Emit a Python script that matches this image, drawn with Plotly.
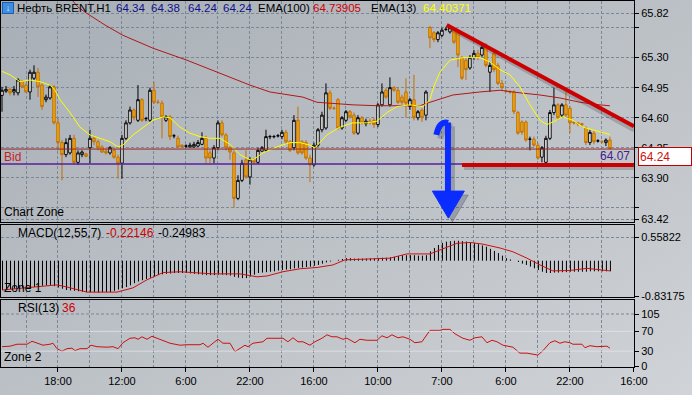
import base64
import plotly.graph_objects as go

# ---------------- data ----------------
BARS = list(range(153))
OPEN = [64.86, 64.91, 64.93, 64.90, 64.89, 65.02, 64.98, 64.90, 65.06, 65.13,
        64.98, 64.81, 64.83, 64.96, 64.54, 64.31, 64.17, 64.19, 64.36, 64.08,
        64.17, 64.18, 64.25, 64.36, 64.32, 64.26, 64.21, 64.19, 64.22, 64.14,
        64.07, 64.36, 64.54, 64.69, 64.57, 64.81, 64.59, 64.57, 64.92, 64.78,
        64.77, 64.57, 64.61, 64.39, 64.36, 64.28, 64.27, 64.26, 64.26, 64.27,
        64.29, 64.36, 64.19, 64.13, 64.25, 64.54, 64.40, 64.25, 64.19, 63.66,
        63.87, 64.11, 63.91, 64.11, 64.08, 64.21, 64.22, 64.38, 64.38, 64.39,
        64.38, 64.43, 64.32, 64.25, 64.57, 64.32, 64.31, 64.13, 64.05, 64.28,
        64.46, 64.48, 64.89, 64.71, 64.81, 64.48, 64.57, 64.67, 64.63, 64.42,
        64.60, 64.53, 64.56, 64.57, 64.52, 64.75, 64.92, 64.75, 64.95, 64.92,
        64.84, 64.90, 64.73, 64.81, 64.60, 64.69, 64.63, 65.65, 65.59, 65.51,
        65.56, 65.63, 65.60, 65.62, 65.59, 65.30, 65.27, 65.18, 65.30, 65.35,
        65.33, 65.45, 65.13, 65.35, 65.21, 65.00, 64.91, 64.90, 64.90, 64.66,
        64.55, 64.55, 64.35, 64.35, 64.28, 64.14, 64.08, 64.36, 64.66, 64.75,
        64.63, 64.75, 64.71, 64.55, 64.54, 64.53, 64.48, 64.31, 64.42, 64.33,
        64.32, 64.31, 64.34]
HIGH = [64.96, 64.97, 64.95, 64.97, 65.06, 65.04, 65.00, 65.16, 65.21, 65.18,
        65.00, 64.87, 64.98, 64.98, 64.60, 64.34, 64.36, 64.40, 64.40, 64.22,
        64.22, 64.19, 64.46, 64.39, 64.34, 64.28, 64.24, 64.27, 64.25, 64.17,
        64.40, 64.57, 64.73, 64.71, 64.98, 64.83, 64.61, 64.95, 65.02, 64.81,
        64.80, 64.63, 64.63, 64.41, 64.39, 64.29, 64.29, 64.31, 64.32, 64.34,
        64.43, 64.39, 64.22, 64.28, 64.57, 64.57, 64.42, 64.27, 64.22, 63.93,
        64.11, 64.22, 64.14, 64.13, 64.25, 64.27, 64.46, 64.40, 64.40, 64.41,
        64.46, 64.46, 64.34, 64.63, 64.73, 64.34, 64.34, 64.17, 64.31, 64.48,
        64.67, 65.00, 64.92, 64.73, 64.83, 64.62, 64.69, 64.69, 64.66, 64.63,
        64.62, 64.59, 64.59, 64.60, 64.77, 65.00, 64.95, 65.07, 64.97, 64.95,
        64.87, 65.06, 64.83, 65.10, 64.69, 64.71, 64.92, 65.67, 65.61, 65.61,
        65.65, 65.66, 65.68, 65.65, 65.61, 65.32, 65.30, 65.33, 65.39, 65.39,
        65.46, 65.47, 65.25, 65.39, 65.24, 65.04, 64.93, 64.92, 64.92, 64.68,
        64.57, 64.57, 64.38, 64.38, 64.31, 64.27, 64.39, 64.69, 64.95, 64.77,
        64.77, 64.90, 64.74, 64.56, 64.55, 64.54, 64.50, 64.46, 64.45, 64.35,
        64.34, 64.36, 64.38]
LOW = [64.67, 64.89, 64.86, 64.86, 64.86, 64.95, 64.89, 64.81, 65.04, 64.84,
       64.69, 64.78, 64.81, 64.52, 64.22, 63.87, 64.14, 64.17, 64.05, 64.05,
       64.14, 64.14, 64.07, 64.28, 64.22, 64.19, 64.17, 64.17, 64.12, 63.89,
       63.89, 64.34, 64.52, 64.57, 64.55, 64.55, 64.56, 64.55, 64.76, 64.76,
       64.36, 64.55, 64.34, 64.36, 64.25, 64.25, 64.25, 64.25, 64.25, 64.26,
       64.28, 64.07, 64.07, 64.07, 64.22, 64.38, 64.22, 64.11, 63.55, 63.64,
       63.85, 63.89, 63.82, 64.06, 64.06, 64.20, 64.20, 64.35, 64.36, 64.37,
       64.35, 64.29, 64.20, 64.22, 64.17, 64.17, 64.11, 63.85, 64.03, 64.26,
       64.43, 64.46, 64.69, 64.69, 64.46, 64.46, 64.55, 64.59, 64.40, 64.40,
       64.52, 64.50, 64.52, 64.48, 64.49, 64.73, 64.82, 64.73, 64.90, 64.76,
       64.75, 64.60, 64.69, 64.57, 64.57, 64.55, 64.57, 65.41, 65.48, 65.48,
       65.54, 65.61, 65.58, 65.46, 65.19, 65.04, 65.04, 65.16, 65.27, 65.27,
       65.31, 65.19, 64.90, 65.13, 64.98, 64.92, 64.89, 64.88, 64.64, 64.40,
       64.40, 64.32, 64.22, 64.26, 64.11, 64.08, 64.06, 64.34, 64.63, 64.57,
       64.61, 64.61, 64.42, 64.52, 64.50, 64.49, 64.28, 64.28, 64.29, 64.31,
       64.30, 64.27, 64.24]
CLOSE = [64.92, 64.93, 64.89, 64.93, 65.04, 64.96, 64.90, 65.13, 65.13, 64.96,
         64.73, 64.84, 64.96, 64.54, 64.31, 64.17, 64.31, 64.36, 64.08, 64.19,
         64.20, 64.15, 64.36, 64.32, 64.25, 64.20, 64.19, 64.25, 64.14, 64.07,
         64.36, 64.54, 64.69, 64.60, 64.81, 64.57, 64.59, 64.92, 64.78, 64.78,
         64.61, 64.61, 64.38, 64.39, 64.26, 64.26, 64.27, 64.28, 64.29, 64.31,
         64.36, 64.13, 64.13, 64.25, 64.54, 64.40, 64.25, 64.20, 63.66, 63.87,
         64.07, 63.91, 64.11, 64.08, 64.22, 64.25, 64.38, 64.38, 64.38, 64.39,
         64.43, 64.32, 64.22, 64.57, 64.19, 64.19, 64.13, 64.05, 64.28, 64.46,
         64.63, 64.89, 64.71, 64.71, 64.48, 64.60, 64.67, 64.61, 64.42, 64.60,
         64.54, 64.56, 64.54, 64.52, 64.75, 64.90, 64.84, 64.95, 64.92, 64.78,
         64.78, 64.77, 64.81, 64.60, 64.67, 64.60, 64.90, 65.53, 65.51, 65.59,
         65.62, 65.63, 65.65, 65.48, 65.33, 65.06, 65.16, 65.30, 65.35, 65.30,
         65.42, 65.21, 65.21, 65.16, 65.00, 64.95, 64.91, 64.90, 64.67, 64.42,
         64.43, 64.34, 64.35, 64.28, 64.13, 64.25, 64.36, 64.66, 64.75, 64.60,
         64.75, 64.63, 64.54, 64.54, 64.53, 64.52, 64.31, 64.43, 64.32, 64.33,
         64.32, 64.34, 64.24]

EMA100_X = [17, 19, 20.75, 23.75, 25.75, 30.25, 37.75, 46.25, 53.75, 62, 67, 75.25, 78.75,
            87.75, 93.75, 101.25, 104.5, 107, 112.75, 119.5, 124.5, 129.5, 134.5, 139.5,
            144.5, 149.5, 152]
EMA100_Y = [66.00, 65.89, 65.83, 65.74, 65.68, 65.56, 65.41, 65.27, 65.13, 64.98, 64.90, 64.84,
            64.78, 64.75, 64.74, 64.74, 64.74, 64.78, 64.865, 64.90, 64.92, 64.89, 64.865,
            64.83, 64.78, 64.75, 64.739]

EMA13_X = [0, 2, 4.5, 7, 9.5, 12, 13.25, 14.5, 17, 19.5, 22, 24.5, 27, 29, 30.25, 32.75, 35.25,
           37.75, 40.25, 42, 44.5, 47, 49.5, 52, 54.5, 57, 59.5, 62, 62.75, 65.25, 68.75, 72,
           74.5, 77, 78.25, 79.5, 81.25, 84.5, 87.75, 91.25, 93.75, 96.25, 98.75, 102, 105.25,
           107, 108, 109.5, 112, 115.25, 119.5, 122, 124.5, 127, 129.5, 132, 134.5, 136.25,
           137.75, 140.25, 142.75, 145.25, 147.75, 150.25, 152]
EMA13_Y = [65.14, 65.10, 65.02, 65.04, 65.02, 64.98, 64.92, 64.81, 64.66, 64.49, 64.40, 64.36,
           64.32, 64.26, 64.28, 64.40, 64.48, 64.57, 64.61, 64.60, 64.49, 64.42, 64.38, 64.36,
           64.36, 64.29, 64.17, 64.11, 64.11, 64.19, 64.26, 64.31, 64.31, 64.28, 64.25, 64.31,
           64.40, 64.49, 64.54, 64.54, 64.56, 64.66, 64.73, 64.75, 64.73, 64.81, 64.97, 65.13,
           65.27, 65.30, 65.30, 65.25, 65.16, 65.10, 64.96, 64.75, 64.57, 64.52, 64.55, 64.61,
           64.57, 64.49, 64.46, 64.43, 64.404]

MACD_HIST = [-0.69, -0.68, -0.67, -0.66, -0.65, -0.64, -0.63, -0.62, -0.62, -0.60,
             -0.59, -0.58, -0.57, -0.60, -0.63, -0.66, -0.69, -0.70, -0.71, -0.72,
             -0.73, -0.74, -0.74, -0.74, -0.75, -0.74, -0.74, -0.74, -0.71, -0.68,
             -0.65, -0.62, -0.58, -0.53, -0.49, -0.46, -0.43, -0.40, -0.37, -0.34,
             -0.32, -0.31, -0.30, -0.29, -0.29, -0.29, -0.29, -0.30, -0.31, -0.32,
             -0.33, -0.34, -0.34, -0.34, -0.33, -0.33, -0.34, -0.35, -0.38, -0.40,
             -0.41, -0.41, -0.37, -0.33, -0.29, -0.28, -0.27, -0.26, -0.25, -0.23,
             -0.22, -0.21, -0.20, -0.18, -0.17, -0.16, -0.15, -0.14, -0.12, -0.10,
             -0.07, -0.04, -0.02, 0.00, 0.02, 0.04, 0.06, 0.06, 0.05, 0.05,
             0.05, 0.05, 0.05, 0.05, 0.06, 0.07, 0.07, 0.08, 0.09, 0.11,
             0.13, 0.13, 0.13, 0.13, 0.12, 0.12, 0.13, 0.22, 0.30, 0.37,
             0.42, 0.45, 0.46, 0.47, 0.47, 0.46, 0.45, 0.44, 0.42, 0.39,
             0.36, 0.33, 0.28, 0.23, 0.18, 0.12, 0.06, 0.03, 0.00, -0.03,
             -0.07, -0.10, -0.14, -0.18, -0.22, -0.26, -0.29, -0.29, -0.28, -0.28,
             -0.27, -0.27, -0.26, -0.26, -0.26, -0.26, -0.26, -0.25, -0.25, -0.25,
             -0.25, -0.25, -0.25]
MACD_SIG_X = [0, 7.75, 13.75, 16.25, 21.25, 28.75, 32.75, 36.25, 40.25, 44.5, 47.75, 52.75,
              59.5, 63.75, 66.25, 70.25, 74.5, 78.75, 82.75, 85.75, 97, 101.25, 107, 109.5,
              113.75, 117, 120.25, 124.5, 127.75, 131.25, 134.5, 137.75, 142, 146.25, 149.5, 152]
MACD_SIG_Y = [-0.69, -0.62, -0.57, -0.62, -0.74, -0.74, -0.64, -0.45, -0.28, -0.26, -0.28, -0.31,
              -0.31, -0.38, -0.36, -0.26, -0.19, -0.16, -0.10, 0.02, 0.06, 0.16, 0.16, 0.25,
              0.41, 0.43, 0.39, 0.30, 0.21, 0.06, -0.10, -0.24, -0.23, -0.18, -0.22, -0.24]

RSI_X = [0, 2, 3.75, 6.25, 7.5, 8.75, 10.25, 12, 12.75, 13.75,
         15, 16.25, 17.5, 18.25, 19.5, 21.25, 22.25, 23.75, 26.25, 27.75,
         29, 30.25, 32, 33.25, 34, 35, 36.25, 37.5, 38.75, 40.25,
         42, 44.5, 46.25, 49.5, 50.25, 51.5, 54, 55.25, 57, 58.25,
         59.5, 60.75, 61.5, 62.75, 65.25, 66.25, 70.25, 71.5, 72.75, 74,
         75.25, 77, 78.25, 80, 81.25, 82.5, 83.75, 85.25, 86.25, 88.25,
         89.5, 91.25, 93.75, 95, 96.25, 97.5, 99, 100.25, 102, 103.25,
         105, 107, 109.5, 110.25, 112, 113.25, 115.25, 117, 118.25, 120,
         121.25, 122.5, 123.75, 125.25, 127.75, 129.5, 131.25, 132.75, 134, 135.25,
         137, 138.25, 139.5, 140.75, 142, 142.75, 145, 145.75, 147, 148.75,
         150.25, 151.25, 152]
RSI_Y = [39, 40, 44, 44, 50, 47, 42, 44, 46, 35,
         30, 35, 36, 31, 35, 35, 42, 39, 38, 39,
         35, 47, 56, 57, 54, 59, 54, 60, 56, 50,
         46, 42, 43, 43, 46, 38, 54, 46, 46, 29,
         36, 42, 39, 46, 49, 56, 56, 49, 57, 49,
         49, 42, 49, 56, 63, 59, 59, 54, 56, 47,
         54, 52, 52, 61, 57, 63, 57, 59, 54, 47,
         49, 72, 72, 74, 74, 65, 56, 52, 57, 59,
         47, 52, 49, 42, 38, 26, 26, 24, 22, 31,
         47, 51, 46, 49, 47, 44, 44, 37, 41, 39,
         39, 40, 36]

TIME_TICKS = [14, 30, 46, 62, 78, 94, 110, 126, 142, 158]
TIME_LABELS = ["18:00", "12:00", "6:00", "22:00", "16:00", "10:00", "7:00", "6:00", "22:00", "16:00"]
PRICE_TICKS = [63.42, 63.55, 63.90, 64.25, 64.60, 64.95, 65.30, 65.65, 65.82]
PRICE_LABELS = ["63.42", "", "63.90", "64.25", "64.60", "64.95", "65.30", "", "65.82"]
MACD_TICKS = [-0.83175, 0.55822]
MACD_LABELS = ["-0.83175", "0.55822"]
RSI_TICKS = [0, 30, 70, 105]

HEADER_VALUES = ["64.34", "64.38", "64.24", "64.24"]
EMA100_LAST = "64.73905"
EMA13_LAST = "64.40371"
MACD_VALUES = ["-0.22146", "-0.24983"]
RSI_LAST = "36"
BID = 64.24
SUPPORT = 64.06
TREND = [(111.2, 65.68), (158.0, 64.50)]
BASE = [(115.0, 64.05), (158.0, 64.05)]

# ---------------- geometry ----------------
W, H = 692, 395
ML, MR, MT, MB = 1, 58, 1, 28
PW, PH = W - ML - MR, H - MT - MB


def px(xp):
    return (xp - ML) / PW


def py(yp):
    return (H - MB - yp) / PH


X_RANGE = [-0.25, 158.02]
GRID_X = list(range(6, 159, 8))
GRID_MINOR = list(range(6, 151, 16))
GRID = dict(gridcolor="#7b8897", griddash="3px,2px", gridwidth=1)
FRAME = dict(showline=True, mirror=True, linecolor="black", linewidth=1, zeroline=False)
FONT = "Liberation Sans, Arial, sans-serif"

fig = go.Figure()

fig.add_trace(go.Candlestick(
    x=BARS, open=OPEN, high=HIGH, low=LOW, close=CLOSE,
    increasing=dict(line=dict(color="#000000", width=1), fillcolor="#ffffff"),
    decreasing=dict(line=dict(color="#c0700a", width=1), fillcolor="#f5aa00"),
    whiskerwidth=0, xaxis="x", yaxis="y", hoverinfo="skip"))
fig.add_trace(go.Scatter(x=EMA100_X, y=EMA100_Y, mode="lines",
                         line=dict(color="#b01818", width=1), xaxis="x", yaxis="y"))
fig.add_trace(go.Scatter(x=EMA13_X, y=EMA13_Y, mode="lines",
                         line=dict(color="#ffff00", width=1), xaxis="x", yaxis="y"))

# MACD histogram as thin 1px stems from zero (half-pixel offset keeps them crisp)
hx, hy = [], []
for b, v in zip(BARS, MACD_HIST):
    hx += [b + 0.125, b + 0.125, None]
    hy += [0, v, None]
fig.add_trace(go.Scatter(x=hx, y=hy, mode="lines", line=dict(color="black", width=1),
                         xaxis="x2", yaxis="y2"))
fig.add_trace(go.Scatter(x=MACD_SIG_X, y=MACD_SIG_Y, mode="lines",
                         line=dict(color="#cc1010", width=1), xaxis="x2", yaxis="y2"))

fig.add_trace(go.Scatter(x=RSI_X, y=RSI_Y, mode="lines",
                         line=dict(color="#cc1010", width=1), xaxis="x3", yaxis="y3"))

# background gradient
svg = ('<svg xmlns="http://www.w3.org/2000/svg" width="692" height="395">'
       '<defs><linearGradient id="g" x1="0" y1="0" x2="1" y2="1">'
       '<stop offset="0" stop-color="#a7aeb5"/><stop offset="1" stop-color="#d0d3d7"/>'
       '</linearGradient></defs><rect width="692" height="395" fill="url(#g)"/></svg>')
src = "data:image/svg+xml;base64," + base64.b64encode(svg.encode()).decode()

shapes = []
shapes.append(dict(type="line", xref="paper", yref="y", x0=0, x1=1, y0=BID - 0.005, y1=BID - 0.005,
                   line=dict(color="#9a2424", width=1)))
shapes.append(dict(type="line", xref="paper", yref="y", x0=0, x1=1, y0=SUPPORT, y1=SUPPORT,
                   line=dict(color="#5a1f9c", width=1.5)))
shapes.append(dict(type="line", xref="paper", yref="y3", x0=0, x1=1, y0=105, y1=105,
                   line=dict(color="#7b8897", width=1, dash="3px,2px")))
for lv in (70, 30):
    shapes.append(dict(type="line", xref="paper", yref="y3", x0=0, x1=1, y0=lv, y1=lv,
                       line=dict(color="rgba(225,228,232,0.8)", width=1)))
shapes.append(dict(type="line", xref="x", yref="y", x0=TREND[0][0] + 0.5, y0=TREND[0][1] - 0.035,
                   x1=TREND[1][0], y1=TREND[1][1] - 0.035 - 0.01,
                   line=dict(color="rgba(40,40,50,0.22)", width=4)))
shapes.append(dict(type="line", xref="x", yref="y", x0=BASE[0][0] + 0.5, y0=BASE[0][1] - 0.035,
                   x1=BASE[1][0], y1=BASE[1][1] - 0.035, line=dict(color="rgba(40,40,50,0.22)", width=4)))
shapes.append(dict(type="line", xref="x", yref="y", x0=TREND[0][0], y0=TREND[0][1],
                   x1=TREND[1][0], y1=TREND[1][1], line=dict(color="#cc0000", width=4)))
shapes.append(dict(type="line", xref="x", yref="y", x0=BASE[0][0], y0=BASE[0][1],
                   x1=BASE[1][0], y1=BASE[1][1], line=dict(color="#cc0000", width=4)))
ARROW_COL = "#0a2cff"
for dx, dy, col in ((1.0, -0.045, "rgba(40,40,70,0.25)"), (0, 0, ARROW_COL)):
    shapes.append(dict(type="path", xref="x", yref="y",
                       path=f"M {108.6+dx},{64.40+dy} Q {109.4+dx},{64.57+dy} {111.5+dx},{64.54+dy}",
                       line=dict(color=col, width=6)))
    shapes.append(dict(type="line", xref="x", yref="y", x0=111.5 + dx, y0=64.545 + dy,
                       x1=111.5 + dx, y1=63.72 + dy, line=dict(color=col, width=6)))
    shapes.append(dict(type="path", xref="x", yref="y",
                       path=f"M {107.6+dx},{63.745+dy} L {115.6+dx},{63.745+dy} L {111.6+dx},{63.43+dy} Z",
                       fillcolor=col, line=dict(color=col, width=1)))

ann = []


def text(xp, yp, s, color="black", size=11, anchor="left"):
    ann.append(dict(x=px(xp), y=py(yp), xref="paper", yref="paper", text=s, showarrow=False,
                    xanchor=anchor, yanchor="middle", font=dict(color=color, size=size, family=FONT)))


ann.append(dict(x=px(2), y=py(2), xref="paper", yref="paper", text="<b>↓</b>", showarrow=False,
                xanchor="left", yanchor="top", width=10, height=10, bgcolor="#3d8de0",
                bordercolor="#1d5fb0", borderwidth=1, borderpad=0,
                font=dict(color="white", size=9, family=FONT)))
text(15, 8, "Нефть BRENT,H1", size=11.5)
for xp, v in zip((114, 149, 186, 221), HEADER_VALUES):
    text(xp, 8, v, color="#101088", size=11.5)
text(256, 8, "EMA(100)", size=11.5)
text(311, 8, EMA100_LAST, color="#d00000", size=11.5)
text(369, 8, "EMA(13)", size=11.5)
text(421, 8, EMA13_LAST, color="#ffff00", size=11.5)
text(2, 157, "Bid", color="#c81e1e", size=12)
text(2, 212, "Chart Zone", size=12)
text(16, 233, "MACD(12,55,7)", size=12)
text(104, 233, MACD_VALUES[0], color="#d00000", size=12)
text(156, 233, MACD_VALUES[1], size=12)
text(2, 288, "Zone 1", size=12)
text(16, 308, "RSI(13)", size=12)
text(60, 308, RSI_LAST, color="#d00000", size=12)
text(2, 357, "Zone 2", size=12)
ann.append(dict(x=157.6, y=64.154, xref="x", yref="y", text="64.07", showarrow=False,
                xanchor="right", yanchor="middle", font=dict(color="#4a1c8c", size=12, family=FONT)))
ann.append(dict(x=px(638), y=py(147), xref="paper", yref="paper", text="64.24", showarrow=False,
                xanchor="left", yanchor="top", align="left", width=50, height=15, borderpad=1,
                bgcolor="white", bordercolor="#c00000", borderwidth=1,
                font=dict(color="#d01010", size=12, family=FONT)))

xcommon = dict(range=X_RANGE, showgrid=True, **GRID, **FRAME)
ycommon = dict(side="right", ticks="outside", ticklen=4, tickcolor="black", **FRAME,
               tickfont=dict(size=11, color="black", family=FONT))

fig.update_layout(
    width=W, height=H, margin=dict(l=ML, r=MR, t=MT, b=MB),
    paper_bgcolor="#bcc1c6", plot_bgcolor="rgba(0,0,0,0)",
    showlegend=False, hovermode=False, boxgap=0.12,
    font=dict(family=FONT, size=11, color="black"),
    images=[dict(source=src, xref="paper", yref="paper", x=px(0), y=py(0),
                 sizex=W / PW, sizey=H / PH, sizing="stretch", xanchor="left", yanchor="top",
                 layer="below")],
    xaxis=dict(domain=[0, 1], anchor="y", tickvals=GRID_X, showticklabels=False, ticks="",
               rangeslider=dict(visible=False), **xcommon),
    yaxis=dict(domain=[py(222), 1], anchor="x", range=[63.385, 65.960],
               tickvals=PRICE_TICKS, ticktext=PRICE_LABELS, showgrid=True, **GRID, **ycommon),
    xaxis2=dict(domain=[0, 1], anchor="y2", tickvals=GRID_X, showticklabels=False, ticks="",
                **xcommon),
    yaxis2=dict(domain=[py(297), py(225)], anchor="x2", range=[-0.855, 0.841],
                tickvals=MACD_TICKS, ticktext=MACD_LABELS, showgrid=True, **GRID, **ycommon),
    xaxis3=dict(domain=[0, 1], anchor="y3", tickvals=TIME_TICKS, ticktext=TIME_LABELS,
                ticks="outside", ticklen=4, tickcolor="black",
                tickfont=dict(size=11, color="black", family=FONT),
                minor=dict(tickvals=GRID_MINOR, showgrid=True, gridcolor=GRID["gridcolor"],
                           griddash=GRID["griddash"], ticks=""),
                **xcommon),
    yaxis3=dict(domain=[0, py(300)], anchor="x3", range=[-2.0, 133.3],
                tickvals=RSI_TICKS, showgrid=False, **ycommon),
    shapes=shapes, annotations=ann,
)

fig.write_html("out.html", config={"displayModeBar": False},
               post_script="document.body.style.margin='0';document.body.style.overflow='hidden';")
